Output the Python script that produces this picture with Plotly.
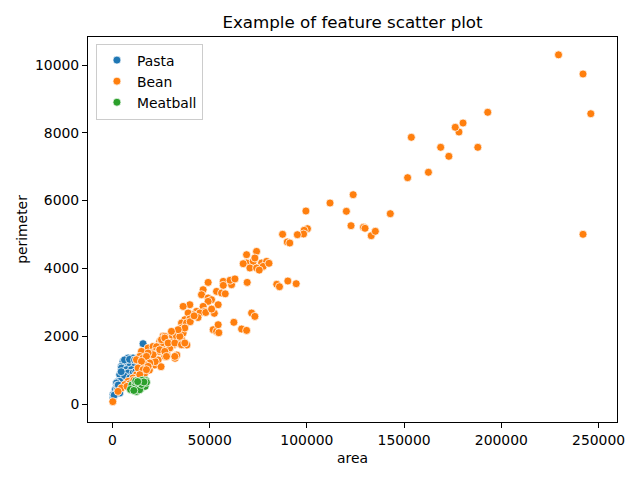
import plotly.graph_objects as go

# Values (area, perimeter) per class
pasta_area = [15760, 8030, 10600, 6330, 8910, 11480, 5460, 9780, 7210, 4630,
              8910, 11480, 4630, 7210, 9780, 5460, 8030, 10600, 3760, 6330,
              8910, 2880, 5460, 3760, 2060, 2060, 3760, 1180, 1180, 3760,
              310, 310, 1500, 2500, 6200, 8800, 11400, 12500, 4500, 12000,
              600, 2400, 1800, 900, 3000]
pasta_perimeter = [1779, 1357, 1357, 1257, 1209, 1159, 1257, 1209, 1159, 1109,
                   1109, 1109, 1062, 1012, 1012, 914, 914, 914, 864, 814,
                   767, 667, 619, 667, 619, 472, 472, 372, 324, 324,
                   274, 177, 420, 550, 1300, 1317, 1298, 1300, 953, 950,
                   230, 400, 300, 260, 560]

bean_area = [229400, 242000, 246000, 242000, 193000, 180300, 178200, 176300, 187900, 168800,
             173000, 153700, 162500, 151800, 142900, 123800, 111900, 120300, 122700, 129100,
             129900, 133100, 135200, 99500, 100300, 98600, 98300, 95100, 87500, 89900,
             91200, 84500, 85900, 90200, 94500, 74130, 68990, 68990, 72390, 76710,
             79280, 70690, 74130, 77530, 67240, 73250, 80500, 75500,
             62100, 61270, 56990, 69300, 49220, 46650, 53550, 56120, 45820, 49220,
             60500, 63000, 50970, 54380, 49220, 46650, 43240, 39800, 36350, 47520,
             44940, 41490, 38920, 52400, 37220, 39800, 35520, 38100, 35520, 36350,
             32950, 31200, 26050, 24350, 33780, 36350, 26050, 71570, 73250, 62450,
             51800, 53550, 54380, 54700, 66420, 69000, 33400, 31300, 26100, 28700,
             29600, 27900, 32200, 33100, 40000, 35700, 38300, 31300, 33100, 25300,
             30500, 32200, 33900, 44000, 48000, 42000, 51000, 57000, 58000,
             18330, 20900, 25230, 26930, 32950, 34650, 29500, 26930, 32080, 20080,
             16630, 14930, 17500, 19200, 21780, 15760, 14070, 12360, 10600, 8030,
             6330, 4630, 2880, 14070, 12360, 200, 22700, 21800, 20100, 15700,
             17500, 20100, 18300, 21800, 15700, 14000, 23500, 25000, 19000, 16500,
             13500, 9000, 7500, 11000, 22000, 24000, 28000,
             25230, 26930, 28630, 34650, 37220, 33780, 32080, 35520, 37220, 24350,
             26930, 27790, 20900, 18330, 17500, 19200, 16630, 18330, 14930, 13180,
             15760, 17500, 14070, 30350]
bean_perimeter = [10300, 9735, 8563, 5006, 8605, 8289, 8024, 8162, 7572, 7572,
                  7307, 7867, 6835, 6676, 5614, 6174, 5929, 5684, 5260, 5212,
                  5183, 4965, 5094, 5693, 5171, 5124, 5015, 4994, 5006, 4779,
                  4749, 3531, 3460, 3628, 3549, 4501, 4404, 4159, 4207, 4159,
                  4207, 4012, 4012, 4059, 4139, 4307, 4150, 3950,
                  3667, 3519, 3617, 3587, 3587, 3372, 3322, 3274, 3224, 3127,
                  3650, 3690, 3077, 2929, 3027, 2879, 2732, 2929, 2879, 2732,
                  2684, 2634, 2684, 2675, 2487, 2507, 2389, 2389, 2242, 2094,
                  2044, 1994, 1994, 1847, 1799, 1749, 1699, 2684, 2584, 2410,
                  2192, 2142, 2339, 2103, 2212, 2171, 2035, 1909, 2006, 1790,
                  1643, 1543, 1348, 1445, 2428, 1888, 1740, 1740, 1790, 1838,
                  2035, 2085, 1985, 2550, 2700, 2600, 2800, 3500, 3250,
                  1652, 1699, 1799, 1994, 1994, 1799, 1652, 1404, 1404, 1454,
                  1454, 1552, 1159, 1209, 1159, 1062, 962, 864, 767, 667,
                  569, 472, 372, 1404, 1307, 70, 1690, 1543, 1494, 1348,
                  1248, 1200, 1100, 1150, 1100, 1003, 1300, 1100, 1000, 900,
                  750, 600, 520, 700, 1250, 1550, 1450,
                  1897, 1947, 1799, 1994, 2242, 2192, 1799, 1749, 1799, 1602,
                  1552, 1404, 1454, 1504, 1404, 1209, 1159, 1109, 1257, 1062,
                  1012, 1012, 864, 2142]

meatball_area = [13180, 10600, 14930, 12360, 15760, 11500, 13900, 16500, 17200, 12800,
                 14500, 10000, 15300, 16800, 11800, 13500, 9300, 14000, 17500, 12000,
                 15000, 16200, 13000, 11000]
meatball_perimeter = [569, 472, 472, 372, 667, 520, 620, 600, 690, 450,
                      540, 560, 700, 520, 610, 500, 430, 420, 640, 680,
                      580, 650, 660, 400]

classes = [("Pasta", pasta_area, pasta_perimeter, "#1f77b4"),
           ("Bean", bean_area, bean_perimeter, "#ff7f0e"),
           ("Meatball", meatball_area, meatball_perimeter, "#2ca02c")]

fig = go.Figure()
for name, xs, ys, color in classes:
    fig.add_trace(go.Scatter(
        x=xs, y=ys, mode="markers", name=name,
        marker=dict(color=color, size=8, line=dict(color="white", width=0.75)),
    ))

axis_style = dict(
    showgrid=False, zeroline=False, showline=True, mirror=True,
    linecolor="black", linewidth=1, ticks="outside", ticklen=5,
    tickwidth=1, tickcolor="black", tickformat="d", automargin=False,
    tickfont=dict(size=13.9, color="black"),
)

# page body adds an 8px margin, so the figure is 16px smaller than the window
fig.update_layout(
    width=624, height=464,
    paper_bgcolor="white", plot_bgcolor="white",
    font=dict(family="DejaVu Sans", color="black"),
    margin=dict(l=80, r=15, t=29, b=50),
    title=dict(text="Example of feature scatter plot", xref="paper", x=0.5,
               xanchor="center", yref="container", y=0.97, yanchor="middle",
               font=dict(size=16.7)),
    xaxis=dict(axis_style, range=[-12560, 259470], dtick=50000,
               title=dict(text="area", font=dict(size=13.9), standoff=6)),
    yaxis=dict(axis_style, range=[-531, 10826], dtick=2000,
               title=dict(text="perimeter", font=dict(size=13.9), standoff=4)),
    legend=dict(x=0.015, y=0.983, xanchor="left", yanchor="top",
                bordercolor="#cccccc", borderwidth=1, bgcolor="rgba(255,255,255,0.8)",
                font=dict(size=13.9), tracegroupgap=0),
    showlegend=True,
)

fig.write_html("out.html")
